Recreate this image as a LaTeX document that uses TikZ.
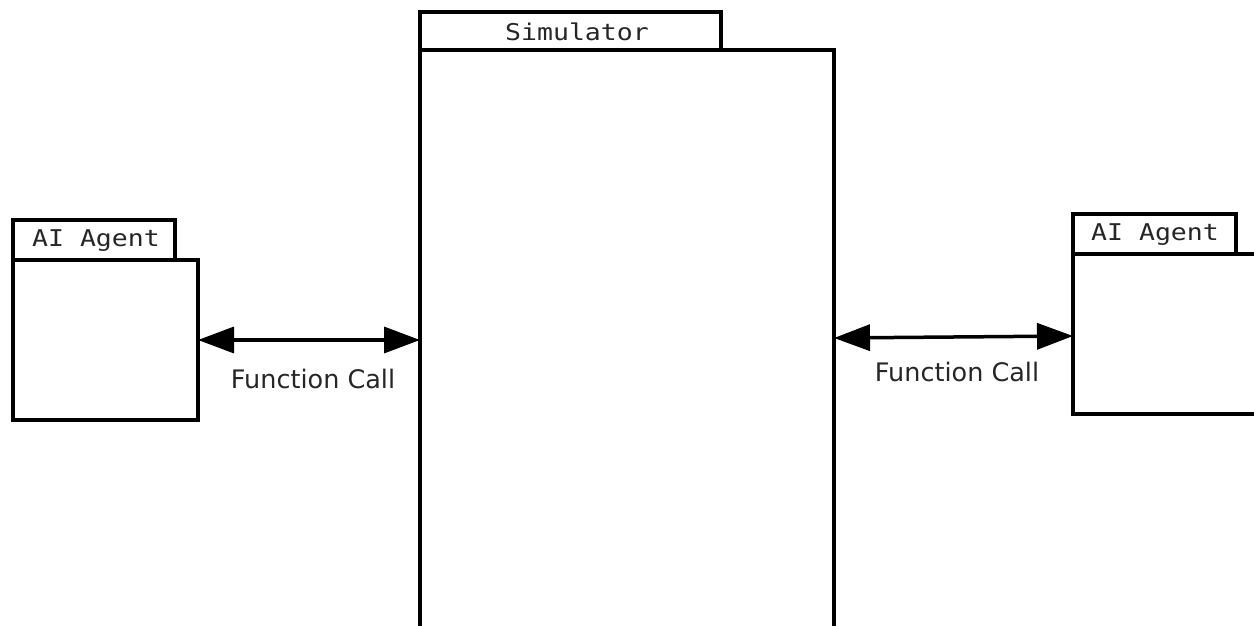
\documentclass[tikz,border=0pt]{standalone}
\usepackage{fontspec}
\setmainfont{DejaVu Sans}
\newfontfamily\monof{DejaVu Sans Mono}
\usetikzlibrary{arrows.meta}
\newcommand{\tabtxt}[1]{\scalebox{1}[0.87]{#1}}
\begin{document}
\begin{tikzpicture}[x=1pt,y=-1pt,
  box/.style={draw=black,line width=3.2pt,fill=white,inner sep=0pt,outer sep=0pt,anchor=north west},
  tabtext/.style={font=\monof\fontsize{26.5}{30}\selectfont,text=black!85},
  lbl/.style={font=\fontsize{25.5}{30}\selectfont,text=black!85},
  conn/.style={line width=3.5pt,{Triangle[length=36pt,width=26pt]}-{Triangle[length=36pt,width=26pt]}}]
\useasboundingbox (0,0) rectangle (1254,626);
\clip (0,0) rectangle (1254,626);
% Simulator
\node[box,minimum width=414pt,minimum height=620pt] (simbody) at (420,50) {};
\node[box,minimum width=301pt,minimum height=38pt] (simtab) at (420,12) {};
\node[tabtext] (simtxt) at (577,32) {\tabtxt{Simulator}};
% Left agent
\node[box,minimum width=185pt,minimum height=160pt] (lbody) at (13,260) {};
\node[box,minimum width=162pt,minimum height=40pt] (ltab) at (13,220) {};
\node[tabtext] (ltxt) at (96,241) {\tabtxt{AI Agent}};
% Right agent
\node[box,minimum width=200pt,minimum height=160pt] (rbody) at (1073,254) {};
\node[box,minimum width=163pt,minimum height=40pt] (rtab) at (1073,214) {};
\node[tabtext] (rtxt) at (1155,235) {\tabtxt{AI Agent}};
% connectors
\coordinate (la) at (lbody.east |- 0,340);
\coordinate (lb) at (simbody.west |- 0,340);
\draw[conn] (la) -- (lb);
\coordinate (ra) at (simbody.east |- 0,338);
\coordinate (rb) at (rbody.west |- 0,336);
\draw[conn] (ra) -- (rb);
\node[lbl] (l1) at (313,379) {Function Call};
\node[lbl] (l2) at (957,372) {Function Call};
\end{tikzpicture}
\end{document}
